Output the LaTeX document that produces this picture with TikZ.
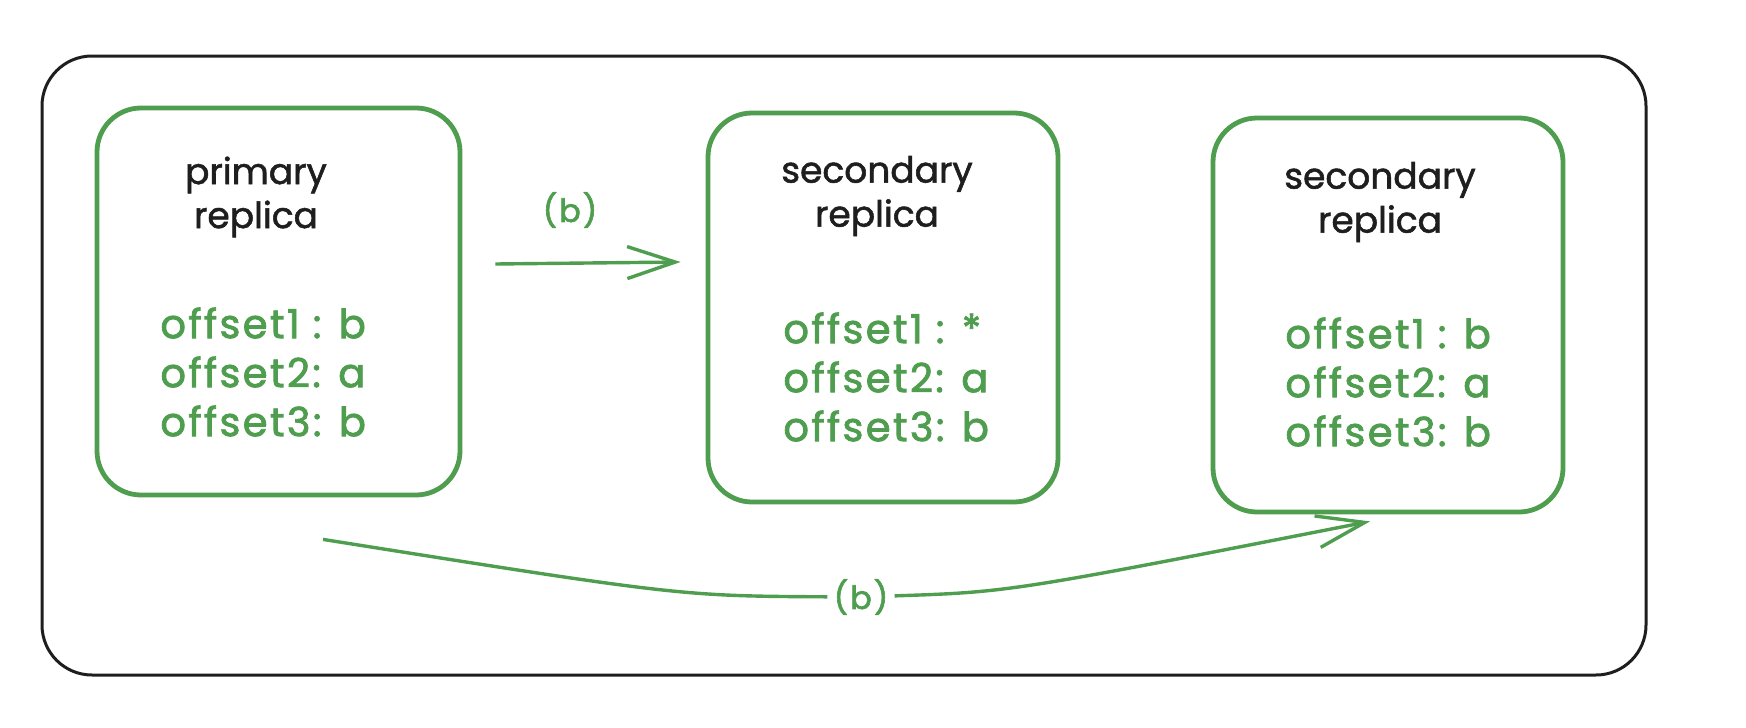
\documentclass[tikz,border=0pt]{standalone}
\usepackage{fontspec}
\setmainfont{Poppins}
\newfontfamily\titlefont{Poppins}[FakeBold=1.5]
\newfontfamily\offfont{Poppins}[FakeBold=2, LetterSpace=6]
\usetikzlibrary{arrows.meta,calc}
\definecolor{exgreen}{RGB}{79,157,78}
\definecolor{exblack}{RGB}{30,30,30}
\tikzset{
  outerbox/.style={draw=exblack, line width=1.5pt, rounded corners=25pt, inner sep=0pt},
  replbox/.style={draw=exgreen, line width=2.4pt, rounded corners=22pt, inner sep=0pt},
  titletext/.style={text=exblack, align=center, inner sep=0pt, font=\titlefont\fontsize{18}{22}\selectfont},
  offtext/.style={text=exgreen, align=left, anchor=west, inner sep=0pt, font=\offfont\fontsize{20}{24.5}\selectfont},
  lbl/.style={text=exgreen, inner sep=3pt, font=\offfont\fontsize{16}{20}\selectfont},
  flow/.style={draw=exgreen, line width=1.7pt, -{Straight Barb[length=24pt, width=16pt]}}
}
\begin{document}
\begin{tikzpicture}[x=0.5pt, y=-0.5pt]
\useasboundingbox (0,0) rectangle (1746,728);
% outer frame
\node[outerbox, minimum width=802pt, minimum height=309.5pt] (frame) at (844,365.5) {};
% replica boxes
\node[replbox, minimum width=181.5pt, minimum height=193.5pt] (p) at (278.5,301.5) {};
\node[replbox, minimum width=175pt, minimum height=194.5pt] (s1) at (883,307.5) {};
\node[replbox, minimum width=175pt, minimum height=197pt] (s2) at (1388,315) {};
% titles
\node[titletext] (pt) at (256,197) {primary\\replica};
\node[titletext] (s1t) at (877,196) {secondary\\replica};
\node[titletext] (s2t) at (1380,202) {secondary\\replica};
% offsets
\node[offtext] (po) at (160,372) {offset1 : b\\offset2: a\\offset3: b};
\node[offtext] (s1o) at (783,377) {offset1 : *\\offset2: a\\offset3: b};
\node[offtext] (s2o) at (1285,382) {offset1 : b\\offset2: a\\offset3: b};
% arrow 1
\coordinate (a1s) at ($(p.east)+(33,-37.5)$);
\coordinate (a1e) at ($(s1.west)+(-25,-45.5)$);
\draw[flow] (a1s) -- (a1e);
\node[lbl] (l1) at (570,210) {(b)};
% arrow 2
\coordinate (a2s) at ($(p.south)+(44.5,42)$);
\coordinate (a2e) at ($(s2.south)+(-18,7)$);
\node[lbl] (l2) at (861,597) {(b)};
\draw[draw=exgreen, line width=1.7pt] (a2s) .. controls (680,596) .. (l2);
\draw[flow] (l2) .. controls (1010,592) .. (a2e);
\end{tikzpicture}
\end{document}
